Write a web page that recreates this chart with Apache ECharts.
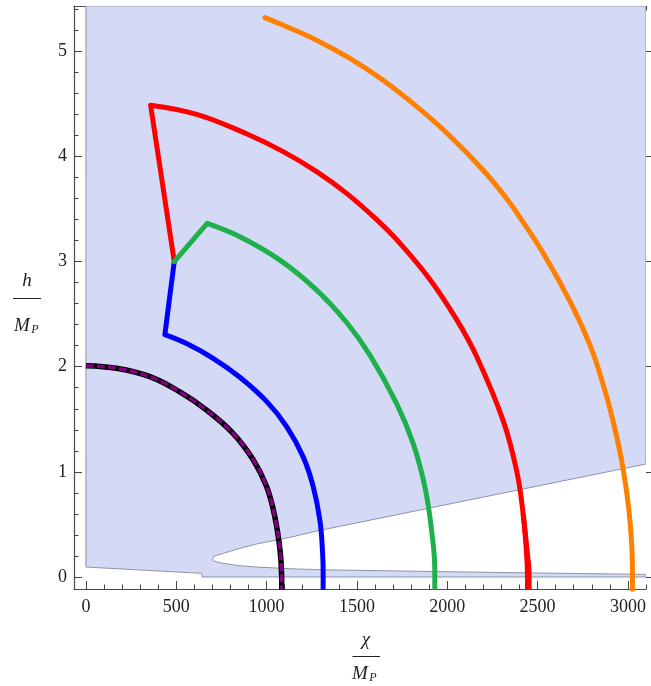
<!DOCTYPE html>
<html><head><meta charset="utf-8">
<script src="https://cdn.jsdelivr.net/npm/echarts@6/dist/echarts.min.js"></script>
<style>html,body{margin:0;padding:0;background:#fff}#c{width:651px;height:686px}</style>
</head><body><div id="c"></div>
<script>
// ---- data ----
const xMajorTicks = [0, 500, 1000, 1500, 2000, 2500, 3000];
const xMinorTicks = [100,200,300,400,600,700,800,900,1100,1200,1300,1400,1600,1700,1800,1900,2100,2200,2300,2400,2600,2700,2800,2900,3100];
const yMajorTicks = [0, 1, 2, 3, 4, 5];
const yMinorTicks = [0.2,0.4,0.6,0.8,1.2,1.4,1.6,1.8,2.2,2.4,2.6,2.8,3.2,3.4,3.6,3.8,4.2,4.4,4.6,4.8,5.2,5.4];

// allowed (shaded) region boundary
const allowedRegion = [
  [0,5.43],[3100,5.43],[3100,1.075],
  [1277,0.437],[1129,0.377],[945,0.314],[852,0.273],[760,0.225],[720,0.205],[705,0.19],[701,0.171],
  [705,0.155],[720,0.145],[760,0.13],[852,0.107],[945,0.095],[1129,0.079],[1277,0.070],[1738,0.057],[2291,0.043],[3100,0.025],
  [3100,0],[642,0],[642,0.035],[0,0.095]
];

const blackCurve = [[0,2.01],[170,1.985],[354,1.905],[520,1.76],[668,1.587],[813,1.369],[924,1.12],[1000,0.86],[1046,0.57],[1074,0.26],[1083,0.03],[1084,-0.12]];

const blueLeg = [[489,3.0],[437,2.305]];
const blueArc = [[437,2.305],[557,2.22],[704,2.08],[852,1.90],[1000,1.67],[1111,1.43],[1203,1.14],[1258,0.86],[1295,0.54],[1310,0.23],[1313,0.03],[1313,-0.12]];

const greenLeg = [[489,3.0],[671,3.362]];
const greenArc = [[671,3.362],[852,3.235],[1074,3.013],[1277,2.728],[1443,2.42],[1572,2.11],[1719,1.651],[1811,1.271],[1876,0.858],[1913,0.447],[1931,0.067],[1931,-0.12]];

const redLeg = [[489,3.0],[358,4.487]];
const redArc = [[358,4.487],[613,4.40],[889,4.215],[1092,4.045],[1277,3.855],[1443,3.648],[1618,3.385],[1719,3.21],[1904,2.83],[2051,2.45],[2162,2.10],[2309,1.49],[2384,1.01],[2420,0.60],[2439,0.22],[2444,0.0],[2444,-0.12]];
const redFoot = [[2420,0.6],[2445,0.2],[2453,0.03],[2453,-0.12]];

const orangeArc = [[991,5.32],[1092,5.247],[1277,5.105],[1461,4.931],[1645,4.724],[1830,4.475],[2014,4.195],[2199,3.868],[2328,3.60],[2384,3.465],[2531,3.08],[2678,2.625],[2789,2.21],[2854,1.88],[2918,1.48],[2973,1.03],[3011,0.54],[3025,0.06],[3025,-0.12]];

// ---- chart ----
const serifFont = 'Liberation Serif';
const frameColor = '#4a4a4a';
const tickColor = '#444';
const XMIN = -66, XMAX = 3100, YMIN = -0.114, YMAX = 5.43;

function xAx(pos, ticks, len, line) {
  return {
    type: 'value', position: pos, min: XMIN, max: XMAX,
    axisLine: { show: line, onZero: false, lineStyle: { color: frameColor, width: 1.2 } },
    axisTick: { show: true, inside: true, length: len, customValues: ticks, lineStyle: { color: tickColor, width: 1 } },
    axisLabel: { show: false },
    splitLine: { show: false }
  };
}
function yAx(pos, ticks, len, line, inside) {
  return {
    type: 'value', position: pos, min: YMIN, max: YMAX,
    axisLine: { show: line, onZero: false, lineStyle: { color: frameColor, width: 1.2 } },
    axisTick: { show: true, inside: inside, length: len, customValues: ticks, lineStyle: { color: tickColor, width: 1 } },
    axisLabel: { show: false },
    splitLine: { show: false }
  };
}

function lineSeries(data, color, width, extra) {
  return Object.assign({
    type: 'line', data: data, xAxisIndex: 0, yAxisIndex: 0, symbol: 'none', smooth: 0.4,
    lineStyle: { color: color, width: width, cap: 'butt', join: 'round' }, z: 3, silent: true
  }, extra || {});
}

function txt(s, x, y, font, align) {
  return { type: 'text', x: x, y: y, silent: true,
    style: { text: s, font: font, fill: '#222', align: align || 'center', verticalAlign: 'middle' } };
}

const titleGraphics = [
  txt('h', 27, 281, 'italic 19px ' + serifFont),
  { type: 'line', silent: true, shape: { x1: 13, y1: 298.5, x2: 41, y2: 298.5 }, style: { stroke: '#222', lineWidth: 1 } },
  txt('M', 22, 326, 'italic 19px ' + serifFont),
  txt('P', 35, 330, 'italic 12px ' + serifFont),
  txt('χ', 366, 640, 'italic 19px ' + serifFont),
  { type: 'line', silent: true, shape: { x1: 352.5, y1: 656.5, x2: 380, y2: 656.5 }, style: { stroke: '#222', lineWidth: 1 } },
  txt('M', 360, 674, 'italic 19px ' + serifFont),
  txt('P', 373, 678, 'italic 12px ' + serifFont)
];

const option = {
  animation: false,
  backgroundColor: '#fff',
  grid: { left: 74, top: 6, width: 572, height: 583, containLabel: false },
  xAxis: [
    xAx('bottom', xMajorTicks, 8, true),
    xAx('bottom', xMinorTicks, 4.5, false),
    xAx('top', xMajorTicks, 8, true),
    xAx('top', xMinorTicks, 4.5, false)
  ],
  yAxis: [
    yAx('left', yMajorTicks, 8, true, true),
    yAx('left', yMinorTicks, 4.5, false, true),
    yAx('right', yMajorTicks, 5, false, false)
  ],
  series: [
    {
      type: 'custom', xAxisIndex: 0, yAxisIndex: 0, clip: true, silent: true, z: 1,
      data: [0],
      renderItem: function (params, api) {
        return {
          type: 'polygon',
          shape: { points: allowedRegion.map(function (p) { return api.coord(p); }) },
          style: { fill: '#d4daf6', stroke: '#8f93a8', lineWidth: 1 }
        };
      }
    },
    lineSeries(blackCurve, '#000000', 5.5),
    lineSeries(blackCurve, '#800080', 3.5, { lineStyle: { color: '#800080', width: 3.5, type: [8, 3] }, z: 4 }),
    lineSeries(blueLeg, '#0000ff', 5, { smooth: false, lineStyle: { color: '#0000ff', width: 5, cap: 'round' } }),
    lineSeries(blueArc, '#0000ff', 5),
    lineSeries(redLeg, '#ff0000', 5, { smooth: false, lineStyle: { color: '#ff0000', width: 5, cap: 'round' } }),
    lineSeries(redArc, '#ff0000', 5),
    lineSeries(redFoot, '#ff0000', 5),
    lineSeries(greenLeg, '#1db04b', 5, { smooth: false, lineStyle: { color: '#1db04b', width: 5, cap: 'round' }, z: 5 }),
    lineSeries(greenArc, '#1db04b', 5, { z: 5 }),
    lineSeries(orangeArc, '#ff8000', 5, { lineStyle: { color: '#ff8000', width: 5, cap: 'round' } })
  ],
  graphic: titleGraphics
};

const chart = echarts.init(document.getElementById('c'), null, { renderer: 'canvas' });
chart.setOption(option);

// tick labels placed through the axes' own scales (serif font)
const bottomPx = chart.convertToPixel({ yAxisIndex: 0 }, YMIN);
const leftPx = chart.convertToPixel({ xAxisIndex: 0 }, XMIN);
const labelGraphics = [];
xMajorTicks.forEach(function (v) {
  labelGraphics.push(txt(String(v), chart.convertToPixel({ xAxisIndex: 0 }, v), bottomPx + 18, '18px ' + serifFont, 'center'));
});
yMajorTicks.forEach(function (v) {
  labelGraphics.push(txt(String(v), leftPx - 7, chart.convertToPixel({ yAxisIndex: 0 }, v), '18px ' + serifFont, 'right'));
});
chart.setOption({ graphic: titleGraphics.concat(labelGraphics) });
</script>
</body></html>
